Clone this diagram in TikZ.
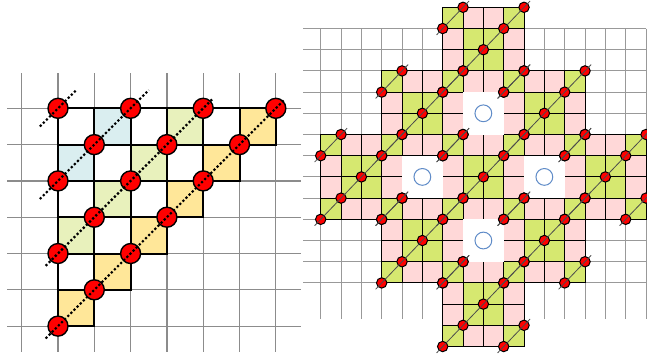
\documentclass[tikz,border=0pt]{standalone}
\usepackage{tikz}

\definecolor{cellcyan}{RGB}{218,238,240}
\definecolor{cellgreen}{RGB}{232,241,188}
\definecolor{cellyellow}{RGB}{255,231,153}
\definecolor{tilepink}{RGB}{255,216,216}
\definecolor{tilegreen}{RGB}{214,232,112}
\definecolor{holeblue}{RGB}{96,140,200}

\tikzset{
  gridline/.style={black!45,line width=0.3mm},
  gridthin/.style={black!40,line width=0.25mm},
  stairline/.style={black,line width=0.5mm},
  bigdot/.style={fill=red,draw=black,line width=0.35mm},
  dotline/.style={black,line width=0.55mm,dash pattern=on 0.55mm off 0.55mm},
  tile/.style={draw=black,line width=0.25mm},
  smalldot/.style={fill=red,draw=black,line width=0.25mm},
  diag/.style={black!70,line width=0.2mm},
  hole/.style={draw=holeblue,line width=0.25mm}
}

\begin{document}
\begin{tikzpicture}[x=0.25mm,y=-0.25mm]
\useasboundingbox (0,0) rectangle (647,358);

%=== Левая картинка: лестница ===
\begin{scope}[shift={(21.7,108.3)},x=9.075mm,y=-9.075mm]

  % Сетка
  \foreach \j in {0,...,6}
    \draw[gridline] (-0.4,\j) -- (7.7,\j);
  \foreach \i in {0,...,7}
    \draw[gridline] (\i,-0.97) -- (\i,6.7);

  % Цветные клетки
  \foreach \i/\j in {2/0,1/1}
    \fill[cellcyan] (\i,\j) rectangle ++(1,1);
  \foreach \i/\j in {4/0,3/1,2/2,1/3}
    \fill[cellgreen] (\i,\j) rectangle ++(1,1);
  \foreach \i/\j in {6/0,5/1,4/2,3/3,2/4,1/5}
    \fill[cellyellow] (\i,\j) rectangle ++(1,1);

  % Контур лестницы
  \foreach \j in {0,...,5}{
    \pgfmathtruncatemacro{\imax}{6-\j}
    \foreach \i in {1,...,\imax}
      \draw[stairline] (\i,\j) rectangle ++(1,1);
  }

  % Кружки
  \foreach \s in {1,3,5,7}
    \foreach \i in {1,...,\s}
      \filldraw[bigdot] (\i,{\s-\i}) circle (2.5mm);

  % Диагонали
  \draw[dotline] (0.5,0.5) -- (1.5,-0.5);
  \draw[dotline] (0.5,2.5) -- (3.5,-0.5);
  \draw[dotline] (0.66,4.34) -- (5.25,-0.25);
  \draw[dotline] (0.66,6.34) -- (7.25,-0.25);
\end{scope}

%=== Правая картинка: крест ===
\begin{scope}[shift={(320.7,7.3)},x=5.083mm,y=-5.3mm]

  % Сетка
  \foreach \j in {1,...,13}
    \draw[gridthin] (-0.85,\j) -- (16,\j);
  \foreach \i in {0,...,16}
    \draw[gridthin] (\i,1) -- (\i,14.7);

  % Блоки 4x4
  \foreach \a in {0,1,2}
    \foreach \b in {0,1,2}{
      \pgfmathtruncatemacro{\cx}{8-3*\a+3*\b}
      \pgfmathtruncatemacro{\cy}{2+3*\a+3*\b}
      \foreach \u in {0,...,3}
        \foreach \v in {0,...,3}{
          \pgfmathtruncatemacro{\eu}{(\u==0)||(\u==3)}
          \pgfmathtruncatemacro{\ev}{(\v==0)||(\v==3)}
          \ifnum\eu=\ev \def\cc{tilegreen}\else\def\cc{tilepink}\fi
          \filldraw[tile,fill=\cc] (\cx-2+\u,\cy-2+\v) rectangle ++(1,1);
        }
    }

  % Пустые клетки
  \foreach \i/\j in {8/5,5/8,11/8,8/11}{
    \fill[white] (\i-1,\j-1) rectangle ++(2,2);
    \draw[hole] (\i,\j) circle (2.1mm);
  }

  % Точки
  \foreach \a in {0,1,2}
    \foreach \b in {0,1,2}{
      \pgfmathtruncatemacro{\cx}{8-3*\a+3*\b}
      \pgfmathtruncatemacro{\cy}{2+3*\a+3*\b}
      \foreach \k in {-2,...,2}
        \filldraw[smalldot] (\cx+\k,\cy-\k) circle (1.3mm);
      \foreach \p/\q in {-2/-1,-1/-2,1/2,2/1}
        \filldraw[smalldot] (\cx+\p,\cy+\q) circle (1.3mm);
    }

  % Диагонали
  \foreach \a in {0,1,2}
    \foreach \b in {0,1,2}{
      \pgfmathtruncatemacro{\cx}{8-3*\a+3*\b}
      \pgfmathtruncatemacro{\cy}{2+3*\a+3*\b}
      \draw[diag] (\cx-2.3,\cy+2.3) -- (\cx+2.3,\cy-2.3);
      \draw[diag] (\cx-2.3,\cy-0.7) -- (\cx-0.7,\cy-2.3);
      \draw[diag] (\cx+0.7,\cy+2.3) -- (\cx+2.3,\cy+0.7);
    }
\end{scope}

\end{tikzpicture}
\end{document}
